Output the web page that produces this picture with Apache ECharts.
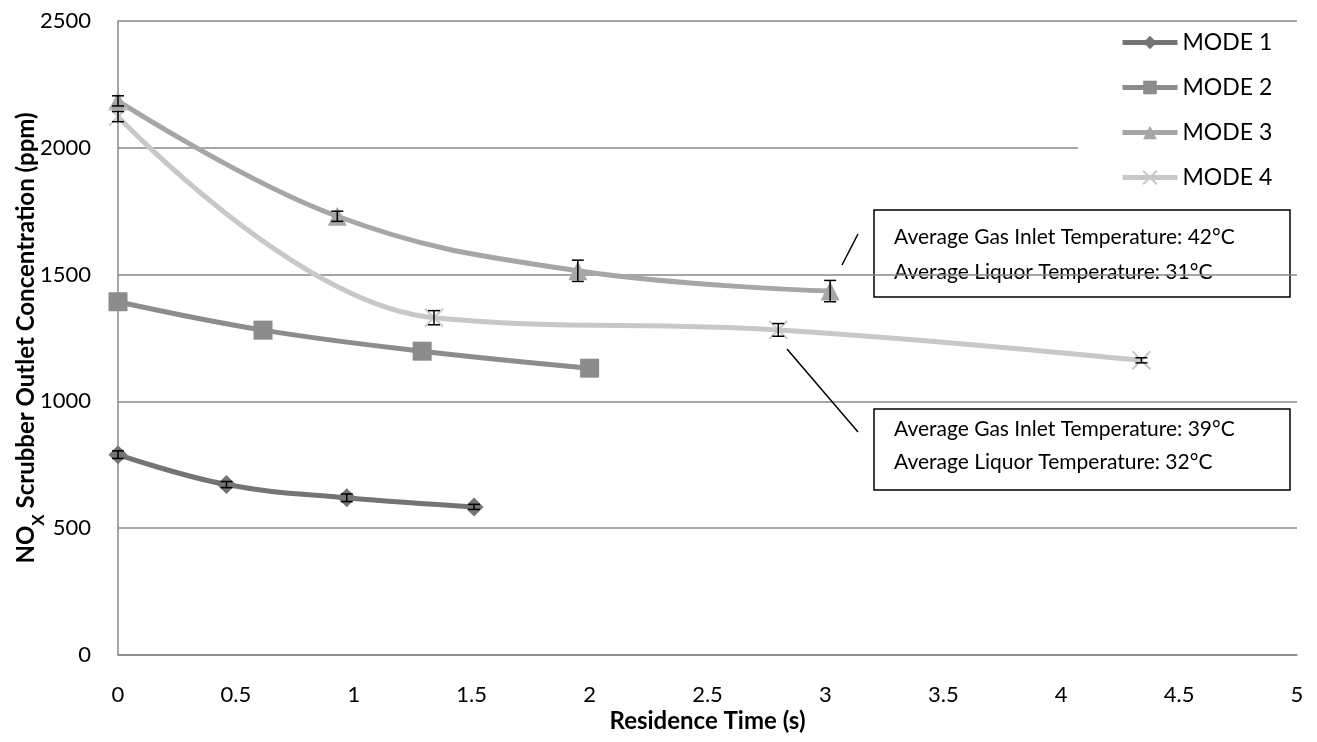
<!DOCTYPE html>
<html><head><meta charset="utf-8">
<script src="https://cdn.jsdelivr.net/npm/echarts@6/dist/echarts.min.js"></script>
<style>html,body{margin:0;padding:0;background:#fff}#c{width:1317px;height:742px}</style>
</head><body><div id="c"></div>
<script>
const FONT = 'Lato';
const seriesNames = ['MODE 1','MODE 2','MODE 3','MODE 4'];
const mode1X = [0, 0.46, 0.97, 1.51];
const mode1Y = [790, 672, 620, 584];
const mode1Err = [15, 12, 15, 10];
const mode2X = [0, 0.615, 1.29, 2.0];
const mode2Y = [1393, 1281, 1198, 1131];
const mode2Err = [0, 0, 0, 0];
const mode3X = [0, 0.93, 1.95, 3.02];
const mode3Y = [2185, 1730, 1515, 1435];
const mode3Err = [20, 20, 42, 42];
const mode4X = [0, 1.34, 2.8, 4.34];
const mode4Y = [2123, 1330, 1282, 1162];
const mode4Err = [20, 28, 25, 10];
const xTicks = [0,0.5,1,1.5,2,2.5,3,3.5,4,4.5,5];
const yTicks = [0,500,1000,1500,2000,2500];
const annot1 = ['Average Gas Inlet Temperature: 42°C','Average Liquor Temperature: 31°C'];
const annot2 = ['Average Gas Inlet Temperature: 39°C','Average Liquor Temperature: 32°C'];

const colors = ['#747474','#8c8c8c','#a6a6a6','#c8c8c8'];
const symbols = ['diamond','rect','triangle','path://M0,0L10,10M10,0L0,10'];
const sizes = [19,19,19,18];
const allX = [mode1X,mode2X,mode3X,mode4X];
const allY = [mode1Y,mode2Y,mode3Y,mode4Y];
const allE = [mode1Err,mode2Err,mode3Err,mode4Err];

const series = [];
for (let i=0;i<4;i++){
  series.push({
    name: seriesNames[i], type:'line', smooth:0.4,
    data: allX[i].map((x,j)=>[x, allY[i][j]]),
    symbol: symbols[i], symbolSize: sizes[i],
    lineStyle:{color:colors[i], width:5},
    itemStyle: i===3 ? {color:'#fff', borderColor:'#c8c8c8', borderWidth:2} : {color:colors[i], borderWidth:0},
    z: 3
  });
}
const errData = [];
for (let i=0;i<4;i++) allX[i].forEach((x,j)=>{ if(allE[i][j]>0) errData.push([x, allY[i][j]-allE[i][j], allY[i][j]+allE[i][j]]); });
series.push({
  type:'custom', name:'err', z:5, silent:true,
  data: errData,
  encode:{x:0,y:[1,2]},
  renderItem: function(params, api){
    const lo = api.coord([api.value(0), api.value(1)]);
    const hi = api.coord([api.value(0), api.value(2)]);
    const w = 6;
    const st = {stroke:'#000', lineWidth:1.5};
    return {type:'group', children:[
      {type:'line', shape:{x1:lo[0],y1:lo[1],x2:hi[0],y2:hi[1]}, style:st},
      {type:'line', shape:{x1:lo[0]-w,y1:lo[1],x2:lo[0]+w,y2:lo[1]}, style:st},
      {type:'line', shape:{x1:hi[0]-w,y1:hi[1],x2:hi[0]+w,y2:hi[1]}, style:st}
    ]};
  }
});

function box(x,y,w,h,lines,ty){
  return {type:'group', z:100, children:[
    {type:'rect', shape:{x:x,y:y,width:w,height:h}, style:{fill:'#fff', stroke:'#000', lineWidth:1.5}},
    {type:'text', x:x+20, y:ty[0], style:{text:lines[0], font:'21px '+FONT, fill:'#000', verticalAlign:'middle'}},
    {type:'text', x:x+20, y:ty[1], style:{text:lines[1], font:'21px '+FONT, fill:'#000', verticalAlign:'middle'}}
  ]};
}

const chart = echarts.init(document.getElementById('c'), null, {renderer:'canvas'});
chart.setOption({
  animation:false,
  backgroundColor:'#fff',
  textStyle:{fontFamily:FONT},
  grid:{left:118, right:20, top:21, bottom:87, containLabel:false, outerBoundsMode:'none'},
  legend:{
    data: seriesNames, orient:'vertical', left:1078, top:23,
    backgroundColor:'#fff', padding:[8,40,8,42],
    itemWidth:55, itemHeight:17, itemGap:22,
    lineStyle:{width:5},
    textStyle:{fontSize:23, color:'#000', fontFamily:FONT},
    z:50
  },
  xAxis:{
    type:'value', min:0, max:5, interval:0.5,
    name:'Residence Time (s)', nameLocation:'middle', nameGap:54, nameMoveOverlap:false,
    nameTextStyle:{fontSize:24, fontWeight:'bold', color:'#000', fontFamily:FONT},
    axisLine:{show:true, onZero:false, lineStyle:{color:'#888', width:1.5}},
    axisTick:{show:false}, splitLine:{show:false},
    axisLabel:{fontSize:22, color:'#000', margin:29, formatter: v => String(v)}
  },
  yAxis:{
    type:'value', min:0, max:2500, interval:500,
    name:'{b|NO}{s|X}{b| Scrubber Outlet Concentration (ppm)}', nameLocation:'middle', nameGap:80, nameMoveOverlap:false,
    nameTextStyle:{rich:{b:{fontSize:24, fontWeight:'bold', color:'#000', fontFamily:FONT}, s:{fontSize:17, fontWeight:'bold', color:'#000', fontFamily:FONT, verticalAlign:'bottom', padding:[0,0,-9,0]}}},
    axisLine:{show:true, lineStyle:{color:'#888', width:1.5}},
    axisTick:{show:false},
    splitLine:{show:true, lineStyle:{color:'#888', width:1.5}},
    axisLabel:{fontSize:22, color:'#000', margin:27, formatter: v => String(v)}
  },
  series: series,
  graphic:[
    {type:'line', z:90, shape:{x1:842,y1:265,x2:858,y2:234}, style:{stroke:'#000', lineWidth:1.5}},
    {type:'line', z:90, shape:{x1:787,y1:349,x2:858,y2:432}, style:{stroke:'#000', lineWidth:1.5}},
    box(874,210,416,87,annot1,[237,272]),
    box(874,409,416,81,annot2,[429,462])
  ]
});
</script></body></html>
